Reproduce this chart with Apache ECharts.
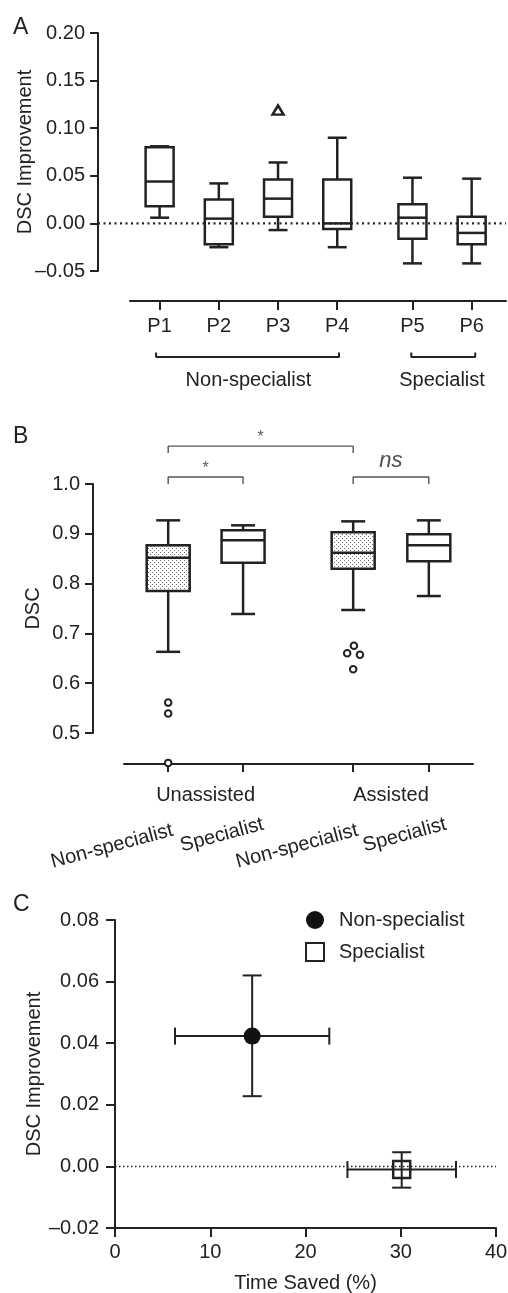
<!DOCTYPE html>
<html>
<head>
<meta charset="utf-8">
<script src="https://cdn.jsdelivr.net/npm/echarts@6/dist/echarts.min.js"></script>
<style>
  html, body { margin: 0; padding: 0; background: #fff; }
  #main { width: 508px; height: 1293px; }
</style>
</head>
<body>
<div id="main"></div>
<script>
// ---- Panel A: per-participant DSC improvement ----
var participantsA = ['P1', 'P2', 'P3', 'P4', 'P5', 'P6'];
var participantPosA = [1, 2, 3, 4, 5.27, 6.27];
// [min, Q1, median, Q3, max]
var boxStatsA = [
  [0.006, 0.018, 0.044, 0.080, 0.081],
  [-0.025, -0.022, 0.005, 0.025, 0.042],
  [-0.007, 0.007, 0.026, 0.046, 0.064],
  [-0.025, -0.006, 0.000, 0.046, 0.090],
  [-0.042, -0.016, 0.006, 0.020, 0.048],
  [-0.042, -0.022, -0.010, 0.007, 0.047]
];
var outliersA = [[2, 0.119]]; // [participant index, value]
var groupNamesA = ['Non-specialist', 'Specialist'];
var groupMembersA = [[0, 3], [4, 5]];

// ---- Panel B: DSC by condition ----
var conditionsB = ['Unassisted', 'Assisted'];
var readerNamesB = ['Non-specialist', 'Specialist', 'Non-specialist', 'Specialist'];
var boxPosB = [1, 2, 3.47, 4.48];
var boxStatsB = [
  [0.663, 0.785, 0.852, 0.877, 0.927],
  [0.739, 0.842, 0.887, 0.907, 0.917],
  [0.747, 0.830, 0.862, 0.903, 0.925],
  [0.775, 0.845, 0.877, 0.899, 0.927]
];
var outliersB = [
  [1, 0.561], [1, 0.539], [1, 0.440],
  [3.39, 0.660], [3.48, 0.675], [3.56, 0.657], [3.47, 0.628]
];
var sigB = [
  { from: 0, to: 2, text: '*' },
  { from: 0, to: 1, text: '*' },
  { from: 2, to: 3, text: 'ns' }
];

// ---- Panel C: time saved vs DSC improvement ----
var readersC = ['Non-specialist', 'Specialist'];
var timeSavedMean = [14.4, 30.1];
var timeSavedLow = [6.3, 24.4];
var timeSavedHigh = [22.5, 35.8];
var dscGainMean = [0.0423, -0.001];
var dscGainLow = [0.0228, -0.0069];
var dscGainHigh = [0.062, 0.0046];

var INK = '#222';
var FONT = 'Liberation Sans, Arial, Helvetica, sans-serif';

function fmt(d) {
  return function (v) {
    return (v < -1e-9 ? '\u2013' : '') + Math.abs(v).toFixed(d);
  };
}
function nameAt(values, names) {
  return function (v) {
    var best = 0;
    for (var i = 1; i < values.length; i++) {
      if (Math.abs(values[i] - v) < Math.abs(values[best] - v)) best = i;
    }
    return names[best];
  };
}
function bracket(x1, x2, yBar, yEnd) {
  return [[x1, yEnd], [x1, yBar], [x2, yBar], [x2, yEnd]];
}

// stippled fill for non-specialist boxes
var dots = document.createElement('canvas');
dots.width = 4; dots.height = 4;
var dctx = dots.getContext('2d');
dctx.fillStyle = '#fff';
dctx.fillRect(0, 0, 4, 4);
dctx.fillStyle = '#6a6a6a';
dctx.fillRect(0, 0, 1, 1);
dctx.fillRect(2, 2, 1, 1);
var stipple = { image: dots, repeat: 'repeat' };

function boxRenderer(boxWidth, capWidth, fill) {
  return function (params, api) {
    var x = api.value(0);
    var lo = api.coord([x, api.value(1)]);
    var q1 = api.coord([x, api.value(2)]);
    var med = api.coord([x, api.value(3)]);
    var q3 = api.coord([x, api.value(4)]);
    var hi = api.coord([x, api.value(5)]);
    var cx = lo[0], bw = boxWidth / 2, cw = capWidth / 2;
    var st = { stroke: INK, lineWidth: 2.5 };
    function seg(x1, y1, x2, y2) {
      return { type: 'line', shape: { x1: x1, y1: y1, x2: x2, y2: y2 }, style: st };
    }
    return {
      type: 'group',
      children: [
        seg(cx, hi[1], cx, q3[1]),
        seg(cx, lo[1], cx, q1[1]),
        seg(cx - cw, hi[1], cx + cw, hi[1]),
        seg(cx - cw, lo[1], cx + cw, lo[1]),
        { type: 'rect', shape: { x: cx - bw, y: q3[1], width: boxWidth, height: q1[1] - q3[1] },
          style: { fill: fill || 'none', stroke: INK, lineWidth: 2.5 } },
        seg(cx - bw, med[1], cx + bw, med[1])
      ]
    };
  };
}

// horizontal dotted reference line at a y value, running from x0 to x1 (axis units)
function refLineRenderer(x0, x1, width, dash) {
  return function (params, api) {
    var a = api.coord([x0, api.value(0)]);
    var b = api.coord([x1, api.value(0)]);
    return {
      type: 'line', shape: { x1: a[0], y1: a[1], x2: b[0], y2: b[1] },
      style: { stroke: INK, lineWidth: width, lineDash: dash }
    };
  };
}

function errorRenderer(params, api) {
  var c = api.coord([api.value(0), api.value(1)]);
  var xl = api.coord([api.value(2), api.value(1)]);
  var xh = api.coord([api.value(3), api.value(1)]);
  var yl = api.coord([api.value(0), api.value(4)]);
  var yh = api.coord([api.value(0), api.value(5)]);
  var st = { stroke: INK, lineWidth: 2 };
  function seg(x1, y1, x2, y2) {
    return { type: 'line', shape: { x1: x1, y1: y1, x2: x2, y2: y2 }, style: st };
  }
  return {
    type: 'group',
    children: [
      seg(xl[0], c[1], xh[0], c[1]),
      seg(xl[0], c[1] - 8.5, xl[0], c[1] + 8.5),
      seg(xh[0], c[1] - 8.5, xh[0], c[1] + 8.5),
      seg(c[0], yl[1], c[0], yh[1]),
      seg(c[0] - 9.5, yl[1], c[0] + 9.5, yl[1]),
      seg(c[0] - 9.5, yh[1], c[0] + 9.5, yh[1])
    ]
  };
}

var boxDataA = participantPosA.map(function (p, i) { return [p].concat(boxStatsA[i]); });
var boxDataB = boxPosB.map(function (p, i) { return [p].concat(boxStatsB[i]); });
var groupMidA = groupMembersA.map(function (g) { return (participantPosA[g[0]] + participantPosA[g[1]]) / 2; });
var condMidB = [(boxPosB[0] + boxPosB[1]) / 2, (boxPosB[2] + boxPosB[3]) / 2];

var axisLineStyle = { color: INK, width: 2 };
var labelStyle = { color: INK, fontSize: 20, fontFamily: FONT };
var nameStyle = { fontSize: 20, color: INK, fontFamily: FONT };

function labelAxis(grid, min, max, offset, values, names, margin, rotate) {
  return {
    gridIndex: grid, type: 'value', position: 'bottom', min: min, max: max, offset: offset,
    axisLine: { show: false, onZero: false }, axisTick: { show: false },
    axisLabel: Object.assign({ customValues: values, margin: margin, rotate: rotate || 0,
      formatter: nameAt(values, names) }, labelStyle),
    splitLine: { show: false }
  };
}

var myChart = echarts.init(document.getElementById('main'));

var option = {
  animation: false,
  backgroundColor: '#fff',
  textStyle: { fontFamily: FONT, color: INK },
  title: [
    { text: 'A', left: 8, top: 11, textStyle: { fontSize: 23, fontWeight: 'normal', color: INK, fontFamily: FONT } },
    { text: 'B', left: 8, top: 420, textStyle: { fontSize: 23, fontWeight: 'normal', color: INK, fontFamily: FONT } },
    { text: 'C', left: 8, top: 888, textStyle: { fontSize: 23, fontWeight: 'normal', color: INK, fontFamily: FONT } }
  ],
  legend: {
    data: readersC,
    orient: 'vertical',
    left: 300,
    top: 905,
    itemWidth: 18,
    itemHeight: 18,
    itemGap: 12,
    textStyle: { fontSize: 20, color: INK, fontFamily: FONT, padding: [0, 0, 0, 10] }
  },
  grid: [
    { left: 130, right: 2, top: 33, bottom: 1022, containLabel: false, outerBoundsMode: 'none' },
    { left: 124, right: 35, top: 484, bottom: 560, containLabel: false, outerBoundsMode: 'none' },
    { left: 115, right: 12, top: 920, bottom: 65, containLabel: false, outerBoundsMode: 'none' }
  ],
  xAxis: [
    { // 0: panel A participants
      gridIndex: 0, type: 'value', position: 'bottom', min: 0.5, max: 6.85, offset: 30,
      axisLine: { onZero: false, lineStyle: axisLineStyle },
      axisTick: { customValues: participantPosA, length: 9, lineStyle: axisLineStyle },
      axisLabel: Object.assign({ customValues: participantPosA, margin: 15,
        formatter: nameAt(participantPosA, participantsA) }, labelStyle),
      splitLine: { show: false }
    },
    // 1: panel A groups
    labelAxis(0, 0.5, 6.85, 30, groupMidA, groupNamesA, 69),
    { // 2: panel B ticks
      gridIndex: 1, type: 'value', position: 'bottom', min: 0.41, max: 5.07, offset: 31,
      axisLine: { onZero: false, lineStyle: axisLineStyle },
      axisTick: { customValues: boxPosB, length: 8, lineStyle: axisLineStyle },
      axisLabel: { show: false },
      splitLine: { show: false }
    },
    // 3: panel B conditions
    labelAxis(1, 0.41, 5.07, 31, condMidB, conditionsB, 21),
    // 4: panel B non-specialist labels
    labelAxis(1, 0.41, 5.07, 31, [boxPosB[0] + 0.06, boxPosB[2] + 0.06], [readerNamesB[0], readerNamesB[2]], 66, 15),
    // 5: panel B specialist labels
    labelAxis(1, 0.41, 5.07, 31, [boxPosB[1] + 0.27, boxPosB[3] + 0.23], [readerNamesB[1], readerNamesB[3]], 60, 15),
    { // 6: panel C
      gridIndex: 2, type: 'value', position: 'bottom', min: 0, max: 40, interval: 10,
      name: 'Time Saved (%)', nameLocation: 'middle', nameGap: 45, nameMoveOverlap: false,
      nameTextStyle: nameStyle,
      axisLine: { onZero: false, lineStyle: axisLineStyle },
      axisTick: { length: 9, lineStyle: axisLineStyle },
      axisLabel: Object.assign({ margin: 14 }, labelStyle),
      splitLine: { show: false }
    }
  ],
  yAxis: [
    {
      gridIndex: 0, type: 'value', position: 'left', min: -0.05, max: 0.2, interval: 0.05, offset: 32,
      name: 'DSC Improvement', nameLocation: 'middle', nameGap: 63, nameMoveOverlap: false,
      nameTextStyle: nameStyle,
      axisLine: { show: true, onZero: false, lineStyle: axisLineStyle },
      axisTick: { show: true, length: 8, lineStyle: axisLineStyle },
      axisLabel: Object.assign({ margin: 13, formatter: fmt(2) }, labelStyle),
      splitLine: { show: false }
    },
    {
      gridIndex: 1, type: 'value', position: 'left', min: 0.5, max: 1.0, interval: 0.1, offset: 31,
      name: 'DSC', nameLocation: 'middle', nameGap: 50, nameMoveOverlap: false,
      nameTextStyle: nameStyle,
      axisLine: { show: true, onZero: false, lineStyle: axisLineStyle },
      axisTick: { show: true, length: 8, lineStyle: axisLineStyle },
      axisLabel: Object.assign({ margin: 13, formatter: fmt(1) }, labelStyle),
      splitLine: { show: false }
    },
    {
      gridIndex: 2, type: 'value', position: 'left', min: -0.02, max: 0.08, interval: 0.02,
      name: 'DSC Improvement', nameLocation: 'middle', nameGap: 71, nameMoveOverlap: false,
      nameTextStyle: nameStyle,
      axisLine: { show: true, onZero: false, lineStyle: axisLineStyle },
      axisTick: { show: true, length: 9, lineStyle: axisLineStyle },
      axisLabel: Object.assign({ margin: 16, formatter: fmt(2) }, labelStyle),
      splitLine: { show: false }
    }
  ],
  series: [
    // ---------- A ----------
    {
      type: 'custom', xAxisIndex: 0, yAxisIndex: 0, silent: true, clip: false,
      renderItem: refLineRenderer(-0.04, 6.85, 2.2, [2, 3.5]),
      encode: { y: 0 },
      data: [[0]]
    },
    {
      type: 'custom', xAxisIndex: 0, yAxisIndex: 0,
      renderItem: boxRenderer(28, 19, null),
      encode: { x: 0, y: [1, 2, 3, 4, 5] },
      data: boxDataA
    },
    {
      type: 'scatter', xAxisIndex: 0, yAxisIndex: 0,
      symbol: 'triangle', symbolSize: [11, 9],
      itemStyle: { color: 'rgba(0,0,0,0)', borderColor: INK, borderWidth: 2.5, opacity: 1 },
      data: outliersA.map(function (o) { return [participantPosA[o[0]], o[1]]; })
    },
    {
      type: 'line', xAxisIndex: 0, yAxisIndex: 0, clip: false, silent: true, symbol: 'none',
      lineStyle: { color: INK, width: 2 },
      data: bracket(participantPosA[groupMembersA[0][0]] - 0.06, participantPosA[groupMembersA[0][1]] + 0.03, -0.1403, -0.1355)
    },
    {
      type: 'line', xAxisIndex: 0, yAxisIndex: 0, clip: false, silent: true, symbol: 'none',
      lineStyle: { color: INK, width: 2 },
      data: bracket(participantPosA[groupMembersA[1][0]] - 0.02, participantPosA[groupMembersA[1][1]] + 0.06, -0.1403, -0.1355)
    },
    // ---------- B ----------
    {
      type: 'custom', xAxisIndex: 2, yAxisIndex: 1,
      renderItem: boxRenderer(43, 24, stipple),
      encode: { x: 0, y: [1, 2, 3, 4, 5] },
      data: [boxDataB[0], boxDataB[2]]
    },
    {
      type: 'custom', xAxisIndex: 2, yAxisIndex: 1,
      renderItem: boxRenderer(43, 24, '#fff'),
      encode: { x: 0, y: [1, 2, 3, 4, 5] },
      data: [boxDataB[1], boxDataB[3]]
    },
    {
      type: 'scatter', xAxisIndex: 2, yAxisIndex: 1, clip: false,
      symbol: 'circle', symbolSize: 6.5, z: 5,
      itemStyle: { color: '#fff', borderColor: INK, borderWidth: 2, opacity: 1 },
      data: outliersB
    }
  ].concat(sigB.map(function (s, i) {
    var bar = i === 0 ? 1.076 : 1.014;
    var end = i === 0 ? 1.062 : 1.0;
    return {
      type: 'line', xAxisIndex: 2, yAxisIndex: 1, clip: false, silent: true, symbol: 'none',
      lineStyle: { color: '#555', width: 1.4 },
      data: bracket(boxPosB[s.from], boxPosB[s.to], bar, end)
    };
  })).concat([
    {
      type: 'scatter', xAxisIndex: 2, yAxisIndex: 1, clip: false, silent: true,
      symbolSize: 0,
      data: sigB.map(function (s, i) {
        var isNs = s.text === 'ns';
        return {
          value: [(boxPosB[s.from] + boxPosB[s.to]) / 2, i === 0 ? 1.094 : (isNs ? 1.046 : 1.03)],
          label: {
            show: true, position: 'inside', formatter: s.text, color: isNs ? INK : '#333',
            fontSize: isNs ? 22 : 16, fontStyle: isNs ? 'italic' : 'normal', fontFamily: FONT
          }
        };
      })
    },
    // ---------- C ----------
    {
      type: 'custom', xAxisIndex: 6, yAxisIndex: 2, silent: true,
      renderItem: refLineRenderer(0, 40, 1.5, [1.5, 2.5]),
      encode: { y: 0 },
      data: [[0]]
    },
    {
      type: 'custom', xAxisIndex: 6, yAxisIndex: 2,
      renderItem: errorRenderer,
      encode: { x: 0, y: 1 },
      data: readersC.map(function (r, i) {
        return [timeSavedMean[i], dscGainMean[i], timeSavedLow[i], timeSavedHigh[i], dscGainLow[i], dscGainHigh[i]];
      })
    },
    {
      name: readersC[0], type: 'scatter', xAxisIndex: 6, yAxisIndex: 2, z: 5,
      symbol: 'circle', symbolSize: 17,
      itemStyle: { color: '#111', opacity: 1 },
      data: [[timeSavedMean[0], dscGainMean[0]]]
    },
    {
      name: readersC[1], type: 'scatter', xAxisIndex: 6, yAxisIndex: 2, z: 5,
      symbol: 'rect', symbolSize: 17,
      itemStyle: { color: 'rgba(255,255,255,0)', borderColor: INK, borderWidth: 2.5, opacity: 1 },
      data: [[timeSavedMean[1], dscGainMean[1]]]
    }
  ])
};

myChart.setOption(option);
</script>
</body>
</html>
